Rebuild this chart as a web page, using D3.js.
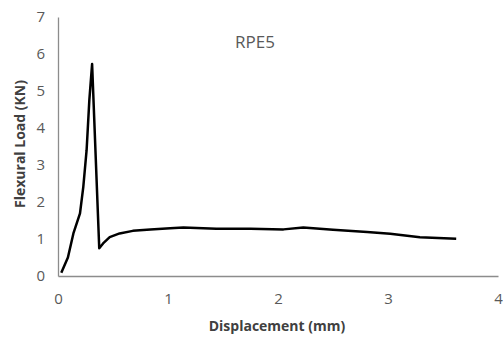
<!DOCTYPE html>
<html>
<head>
<meta charset="utf-8">
<script src="https://cdn.jsdelivr.net/npm/d3@7"></script>
<style>
  body { margin: 0; background: #fff; }
  text { font-family: "Open Sans", "Liberation Sans", sans-serif; }
</style>
</head>
<body>
<svg id="chart" width="503" height="339"></svg>
<script>
// displacement (mm) and load (KN)
const displacement = [0.03, 0.09, 0.14, 0.2, 0.23, 0.26, 0.285, 0.31, 0.375, 0.41, 0.47, 0.56, 0.68, 0.84, 1.02, 1.14, 1.44, 1.75, 2.05, 2.23, 2.5, 2.81, 3.02, 3.29, 3.62];
const load = [0.09, 0.5, 1.15, 1.69, 2.41, 3.4, 4.76, 5.73, 0.75, 0.88, 1.05, 1.15, 1.22, 1.26, 1.29, 1.31, 1.28, 1.28, 1.26, 1.31, 1.25, 1.19, 1.14, 1.05, 1.01];
const xTicks = [0, 1, 2, 3, 4];
const yTicks = [0, 1, 2, 3, 4, 5, 6, 7];
const title = 'RPE5';

const margin = { top: 17, right: 5, bottom: 63, left: 58 };
const width = 503 - margin.left - margin.right;
const height = 339 - margin.top - margin.bottom;

const svg = d3.select('#chart')
  .append('g')
  .attr('transform', `translate(${margin.left},${margin.top})`);

const x = d3.scaleLinear().domain([0, 4]).range([0, 440]);
const y = d3.scaleLinear().domain([0, 7]).range([height, 0]);

// axes, no tick marks, grey text
svg.append('g')
  .attr('transform', `translate(0,${height})`)
  .call(d3.axisBottom(x).tickValues(xTicks).tickSize(0).tickPadding(17).tickFormat(d3.format('d')))
  .call(g => g.select('.domain').attr('stroke', '#8c8c8c').attr('stroke-width', 1.3))
  .call(g => g.selectAll('text').attr('fill', '#595959').style('font-size', '15px'));

svg.append('g')
  .call(d3.axisLeft(y).tickValues(yTicks).tickSize(0).tickPadding(13).tickFormat(d3.format('d')))
  .call(g => g.select('.domain').attr('stroke', '#8c8c8c').attr('stroke-width', 1.3))
  .call(g => g.selectAll('text').attr('fill', '#595959').style('font-size', '15px'));

// the load curve
const pts = displacement.map((d, i) => [d, load[i]]);
svg.append('path')
  .datum(pts)
  .attr('fill', 'none')
  .attr('stroke', '#000')
  .attr('stroke-width', 2.5)
  .attr('stroke-linejoin', 'round')
  .attr('d', d3.line().x(d => x(d[0])).y(d => y(d[1])));

// title and axis labels
svg.append('text')
  .attr('x', 197).attr('y', 31)
  .attr('text-anchor', 'middle')
  .attr('fill', '#595959')
  .style('font-size', '17px')
  .text(title);

svg.append('text')
  .attr('x', 219).attr('y', 314)
  .attr('text-anchor', 'middle')
  .attr('fill', '#404040')
  .style('font-size', '14px')
  .style('font-weight', 'bold')
  .text('Displacement (mm)');

svg.append('text')
  .attr('transform', `translate(-33,${127}) rotate(-90)`)
  .attr('text-anchor', 'middle')
  .attr('fill', '#404040')
  .style('font-size', '14px')
  .style('font-weight', 'bold')
  .text('Flexural Load (KN)');
</script>
</body>
</html>
